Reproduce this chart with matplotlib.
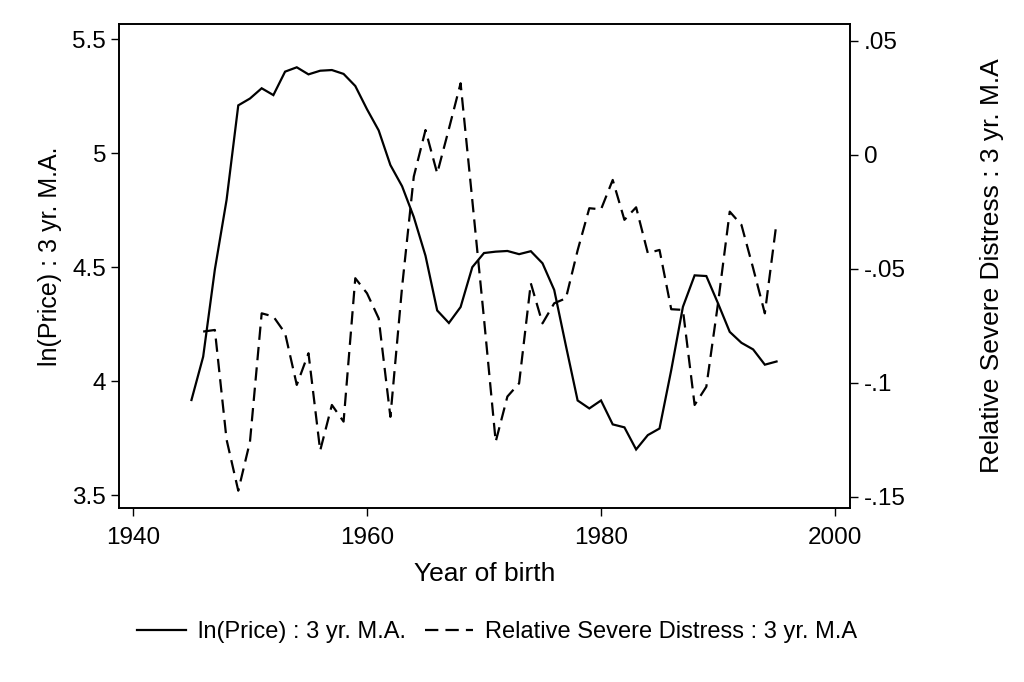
import matplotlib
matplotlib.use("Agg")
import matplotlib.pyplot as plt
from matplotlib.ticker import FixedLocator, FixedFormatter

plt.rcParams['font.family'] = ['Liberation Sans', 'DejaVu Sans']

years_price = list(range(1945, 1996))
ln_price = [3.917, 4.107, 4.49, 4.795, 5.21, 5.24, 5.285, 5.255, 5.358, 5.377,
            5.346, 5.362, 5.365, 5.348, 5.295, 5.193, 5.10, 4.948, 4.855, 4.72,
            4.55, 4.31, 4.255, 4.325, 4.50, 4.562, 4.568, 4.571, 4.557, 4.57,
            4.517, 4.40, 4.155, 3.915, 3.88, 3.915, 3.81, 3.797, 3.70, 3.763,
            3.792, 4.048, 4.326, 4.464, 4.461, 4.341, 4.216, 4.168, 4.139, 4.072,
            4.086]

years_distress = list(range(1946, 1996))
distress = [-0.0776, -0.0769, -0.125, -0.1474, -0.1259, -0.0696, -0.071, -0.0783,
            -0.101, -0.0871, -0.1298, -0.1098, -0.1171, -0.0542, -0.0608, -0.0718,
            -0.115, -0.058, -0.0096, 0.0108, -0.0082, 0.0113, 0.0313, -0.020,
            -0.072, -0.1259, -0.1061, -0.1003, -0.0564, -0.074, -0.0652, -0.063,
            -0.042, -0.0235, -0.024, -0.0111, -0.0286, -0.0231, -0.0432, -0.0418,
            -0.0678, -0.0681, -0.1098, -0.1018, -0.0652, -0.025, -0.0308, -0.0498,
            -0.0696, -0.0298]

x_ticks = [1940, 1960, 1980, 2000]
left_ticks = [3.5, 4, 4.5, 5, 5.5]
left_labels = ["3.5", "4", "4.5", "5", "5.5"]
right_ticks = [-0.15, -0.1, -0.05, 0, 0.05]
right_labels = ["-.15", "-.1", "-.05", "0", ".05"]

fig = plt.figure(figsize=(10.24, 6.82), dpi=100)
ax = fig.add_axes([0.1159, 0.2551, 0.8301 - 0.1159, 0.9648 - 0.2551])
ax2 = ax.twinx()

l1, = ax.plot(years_price, ln_price, color='black', lw=1.6, solid_joinstyle='miter')
l2, = ax2.plot(years_distress, distress, color='black', lw=1.6, dashes=(6, 3.2))

ax.set_xlim(1938.78, 2001.28)
ax.set_ylim(3.443, 5.567)
ax2.set_ylim(-0.155, 0.0573)

ax.xaxis.set_major_locator(FixedLocator(x_ticks))
ax.yaxis.set_major_locator(FixedLocator(left_ticks))
ax.yaxis.set_major_formatter(FixedFormatter(left_labels))
ax2.yaxis.set_major_locator(FixedLocator(right_ticks))
ax2.yaxis.set_major_formatter(FixedFormatter(right_labels))

for a in (ax, ax2):
    a.tick_params(direction='out', length=6, width=1, labelsize=17.5, colors='black', pad=4)
    for s in a.spines.values():
        s.set_linewidth(1.2)
ax.tick_params(axis='x', pad=8)
ax.tick_params(axis='y', pad=3)

ax.set_xlabel("Year of birth", fontsize=19, labelpad=9)
ax.set_ylabel("ln(Price) : 3 yr. M.A.", fontsize=18)
ax.yaxis.set_label_coords(-0.077, 0.52)
ax2.set_ylabel("Relative Severe Distress : 3 yr. M.A", fontsize=19, labelpad=53, rotation=90)

fig.legend([l1, l2], ["ln(Price) : 3 yr. M.A.", "Relative Severe Distress : 3 yr. M.A"],
           loc='center', bbox_to_anchor=(0.4855, 0.073), ncol=2, frameon=False,
           fontsize=17, handlelength=2.05, columnspacing=0.8, handletextpad=0.5)

fig.savefig("out.png", dpi=100, facecolor='white')
